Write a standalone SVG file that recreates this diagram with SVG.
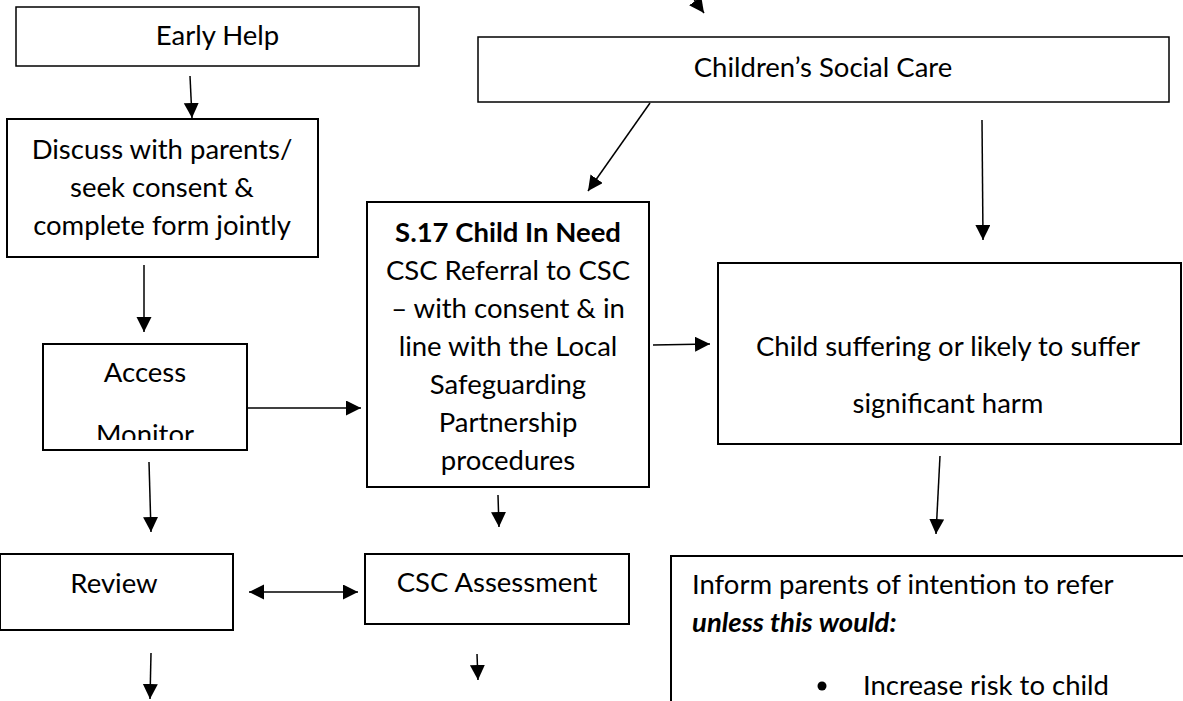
<svg xmlns="http://www.w3.org/2000/svg" width="1183" height="701" viewBox="0 0 1183 701">
<style>
.box{fill:#fff;stroke:#000;stroke-width:2}
.thin{stroke-width:1.5}
.t{font-family:Lato,"Liberation Sans",sans-serif;font-size:27.5px;fill:#000}
.c{text-anchor:middle}
.b{font-weight:bold}
.bi{font-weight:bold;font-style:italic}
.con{stroke:#000;stroke-width:1.5;fill:none;marker-end:url(#ah)}
</style>
<defs>
<marker id="ah" markerUnits="userSpaceOnUse" markerWidth="16" markerHeight="16" refX="15" refY="7.5" orient="auto-start-reverse" viewBox="0 0 16 16">
<path d="M0,0 L15,7.5 L0,15 z" fill="#000"/>
</marker>
<clipPath id="accClip"><rect x="43" y="344" width="204" height="96"/></clipPath>
</defs>
<rect width="1183" height="701" fill="#fff"/>
<g id="early-help">
<rect class="box thin" x="16" y="7" width="403" height="59"/>
<text class="t c" x="217.5" y="45">Early Help</text>
</g>
<g id="childrens-social-care">
<rect class="box thin" x="478" y="37" width="691" height="65"/>
<text class="t c" x="823" y="77">Children’s Social Care</text>
</g>
<g id="discuss">
<rect class="box" x="7" y="119" width="311" height="138"/>
<text class="t c" x="162" y="159">Discuss with parents/</text>
<text class="t c" x="162" y="197">seek consent &amp;</text>
<text class="t c" x="162" y="235">complete form jointly</text>
</g>
<g id="s17">
<rect class="box" x="367" y="202" width="282" height="285"/>
<text class="t c b" x="508" y="242">S.17 Child In Need</text>
<text class="t c" x="508" y="280">CSC Referral to CSC</text>
<text class="t c" x="508" y="318">– with consent &amp; in</text>
<text class="t c" x="508" y="356">line with the Local</text>
<text class="t c" x="508" y="394">Safeguarding</text>
<text class="t c" x="508" y="432">Partnership</text>
<text class="t c" x="508" y="470">procedures</text>
</g>
<g id="child-suffering">
<rect class="box" x="718" y="263" width="463" height="181"/>
<text class="t c" x="948" y="356">Child suffering or likely to suffer</text>
<text class="t c" x="948" y="413">significant harm</text>
</g>
<g id="access-monitor">
<rect class="box" x="43" y="344" width="204" height="106"/>
<g clip-path="url(#accClip)">
<text class="t c" x="145" y="382">Access</text>
<text class="t c" x="145" y="444">Monitor</text>
</g>
</g>
<g id="review">
<rect class="box" x="0" y="554" width="233" height="76"/>
<text class="t c" x="114" y="593">Review</text>
</g>
<g id="csc-assessment">
<rect class="box" x="365" y="554" width="264" height="70"/>
<text class="t c" x="497" y="592">CSC Assessment</text>
</g>
<g id="inform">
<rect class="box" x="671" y="556" width="530" height="170"/>
<text class="t" x="692" y="594">Inform parents of intention to refer</text>
<text class="t bi" x="692" y="632">unless this would:</text>
<circle cx="822" cy="686" r="4.5" fill="#000"/>
<text class="t" x="863" y="695">Increase risk to child</text>
</g>
<g id="connectors">
<line class="con" x1="680" y1="-20" x2="704" y2="13"/>
<line class="con" x1="190" y1="76" x2="192" y2="118"/>
<line class="con" x1="650" y1="103" x2="588" y2="191"/>
<line class="con" x1="982" y1="120" x2="983" y2="240"/>
<line class="con" x1="144" y1="265" x2="144" y2="332"/>
<line class="con" x1="247" y1="408" x2="361" y2="408"/>
<line class="con" x1="653" y1="345" x2="710" y2="344"/>
<line class="con" x1="149" y1="462" x2="151" y2="532"/>
<line class="con" x1="498" y1="495" x2="499" y2="527"/>
<line class="con" x1="940" y1="456" x2="936" y2="534"/>
<line class="con" x1="249" y1="592" x2="358" y2="592" style="marker-start:url(#ah)"/>
<line class="con" x1="151" y1="653" x2="150" y2="699"/>
<line class="con" x1="477" y1="654" x2="478" y2="680"/>
</g>
</svg>
